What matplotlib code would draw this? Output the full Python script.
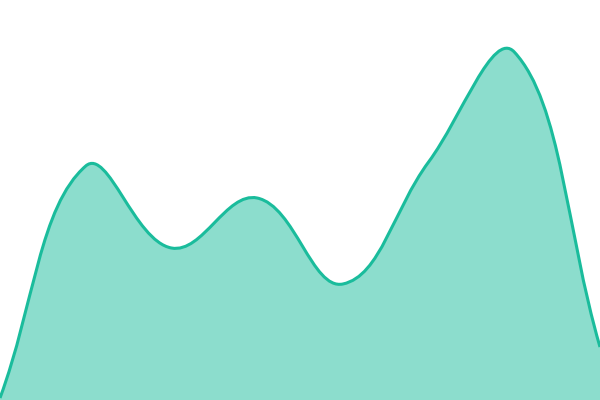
import matplotlib
matplotlib.use("Agg")
import matplotlib.pyplot as plt
import numpy as np
from matplotlib.path import Path
from matplotlib.patches import PathPatch

# valores (altura em px a partir da base)
x_vals = [0, 1, 2, 3, 4, 5, 6, 7]
y_vals = [2, 234, 152, 202, 116, 238, 348, 53]

LINE = "#1abc9c"
TENSION = 0.4
W, H = 600, 400


def spline_path(xs, ys, t=TENSION):
    """Curva suave com pontos de controle ponderados pela distância (em px)."""
    sx = W / (xs[-1] - xs[0])
    pts = np.column_stack([np.array(xs, float) * sx, np.array(ys, float)])
    n = len(pts)
    cp_prev, cp_next = [], []
    for i in range(n):
        cur = pts[i]
        prev = pts[i - 1] if i > 0 else cur
        nxt = pts[i + 1] if i < n - 1 else cur
        d01 = np.hypot(*(cur - prev))
        d12 = np.hypot(*(nxt - cur))
        tot = d01 + d12
        s01 = d01 / tot if tot else 0
        s12 = d12 / tot if tot else 0
        cp_prev.append(cur - t * s01 * (nxt - prev))
        cp_next.append(cur + t * s12 * (nxt - prev))
    verts = [pts[0]]
    codes = [Path.MOVETO]
    for i in range(n - 1):
        verts += [cp_next[i], cp_prev[i + 1], pts[i + 1]]
        codes += [Path.CURVE4] * 3
    verts = [(v[0] / sx, v[1]) for v in verts]
    return verts, codes


fig = plt.figure(figsize=(6, 4), dpi=100)
ax = fig.add_axes([0, 0, 1, 1])

verts, codes = spline_path(x_vals, y_vals)

# área
area_verts = verts + [(x_vals[-1], 0), (x_vals[0], 0), verts[0]]
area_codes = codes + [Path.LINETO, Path.LINETO, Path.CLOSEPOLY]
ax.add_patch(PathPatch(Path(area_verts, area_codes), facecolor=LINE,
                       alpha=0.5, edgecolor="none"))

# linha
ax.add_patch(PathPatch(Path(verts, codes), facecolor="none",
                       edgecolor=LINE, linewidth=2.2))

ax.set_xlim(x_vals[0], x_vals[-1])
ax.set_ylim(0, 400)
ax.axis("off")

fig.savefig("out.png", dpi=100)
